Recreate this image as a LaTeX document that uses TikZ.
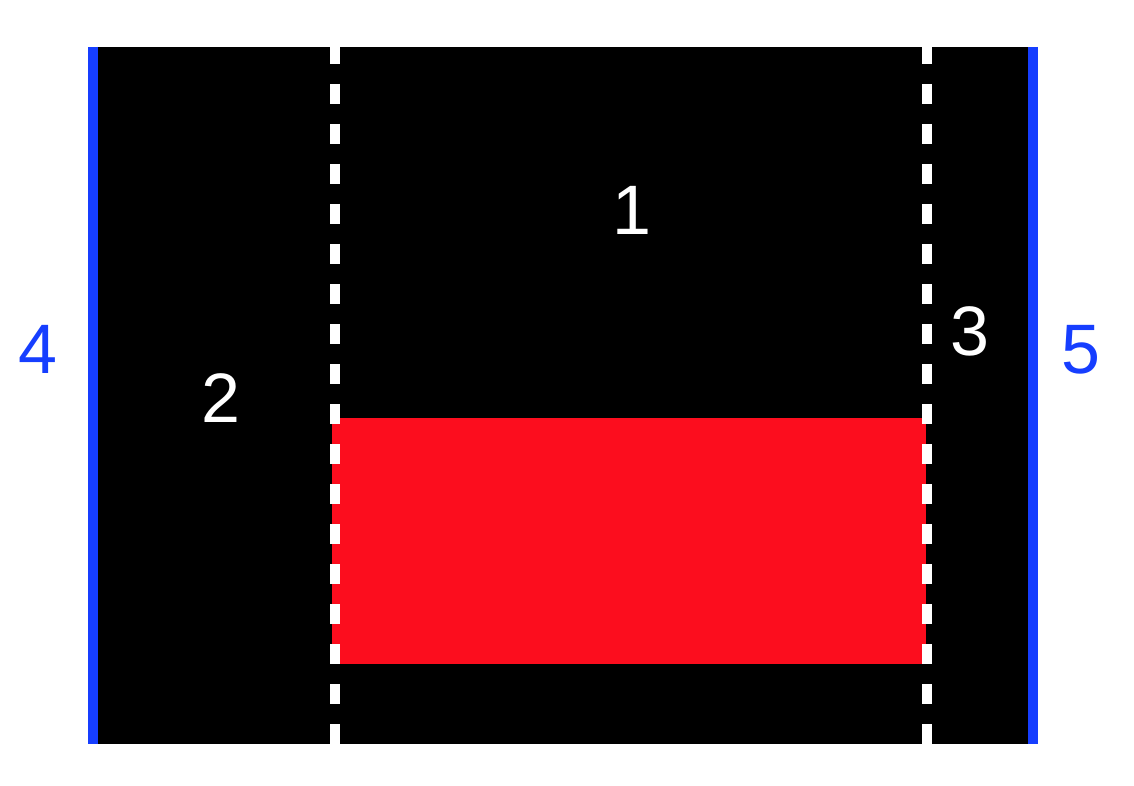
\documentclass[tikz,border=0pt]{standalone}
\usepackage{fontspec}
\setmainfont{Liberation Sans}
\usepackage{tikz}
\usetikzlibrary{positioning}

\definecolor{laneblue}{RGB}{22,62,255}
\definecolor{zonered}{RGB}{252,13,30}

\begin{document}
\begin{tikzpicture}[
  x=1pt, y=-1pt,
  region/.style={inner sep=0pt, font=\fontsize{70}{80}\selectfont},
  zonelabel/.style={region, text=white},
  edgelabel/.style={region, text=laneblue},
  divider/.style={draw=white, line width=10pt, dash pattern=on 20pt off 20pt, dash phase=3pt},
  border/.style={draw=laneblue, line width=10pt}
]
\useasboundingbox (0,0) rectangle (1134,786);

% road and blocked area
\fill[black] (93,47) rectangle (1033,744);
\fill[zonered] (332,418) rectangle (926,664);

% lane dividers
\coordinate (divLtop) at (335,47);
\coordinate (divLbot) at (335,744);
\coordinate (divRtop) at (927,47);
\coordinate (divRbot) at (927,744);
\draw [divider] (divLtop) -- (divLbot);
\draw [divider] (divRtop) -- (divRbot);

% outer edges
\coordinate (edgeLtop) at (93,47);
\coordinate (edgeLbot) at (93,744);
\coordinate (edgeRtop) at (1033,47);
\coordinate (edgeRbot) at (1033,744);
\draw [border] (edgeLtop) -- (edgeLbot);
\draw [border] (edgeRtop) -- (edgeRbot);

% labels
\node (lane1) [zonelabel] at (632,210) {1};
\node (lane2) [zonelabel] at (221,398) {2};
\node (lane3) [zonelabel] at (970,331) {3};
\node (edge4) [edgelabel] at (38,349) {4};
\node (edge5) [edgelabel] at (1081,350) {5};

\end{tikzpicture}
\end{document}
